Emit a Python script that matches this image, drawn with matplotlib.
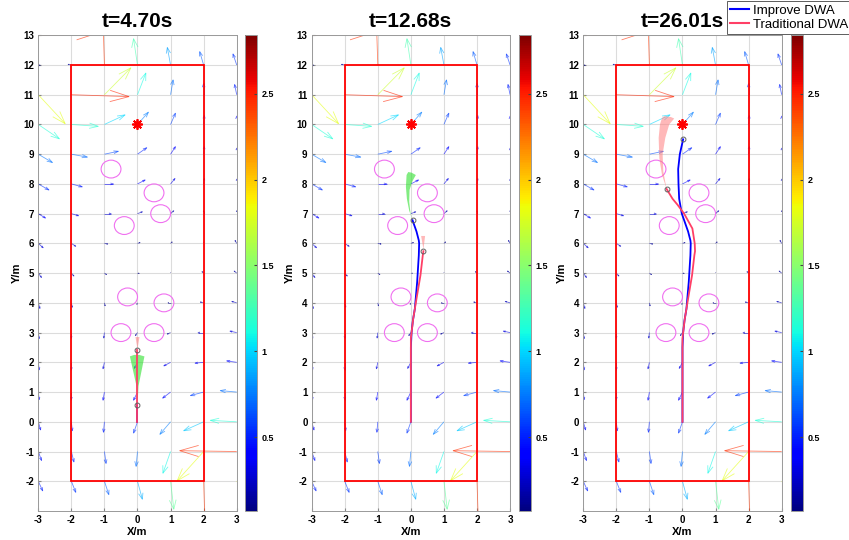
import numpy as np
import matplotlib
matplotlib.use("Agg")
import matplotlib.pyplot as plt
from matplotlib.collections import LineCollection
from matplotlib.patches import Circle, Rectangle
from matplotlib.colors import Normalize
from matplotlib.cm import ScalarMappable
from matplotlib.lines import Line2D

plt.rcParams['font.family'] = ['Liberation Sans', 'DejaVu Sans']
plt.rcParams['axes.unicode_minus'] = False

# ---- data ----
titles = ["t=4.70s", "t=12.68s", "t=26.01s"]

# flow field (m/s) on an integer grid, rows from y=13 down to y=-3
grid_x = [-3, -2, -1, 0, 1, 2, 3]
grid_y = [13, 12, 11, 10, 9, 8, 7, 6, 5, 4, 3, 2, 1, 0, -1, -2, -3]
flow_u = [
    [2.46, 0.43, 0.14, -0.21, -0.29, -0.29, -0.21],
    [0.07, -0.14, -0.07, -0.17, -0.14, -0.17, -0.16],
    [1.16, 2.49, 1.14, 0.36, 0.11, 0.0, -0.09],
    [0.91, 1.16, 0.89, 0.47, 0.21, 0.03, 0.0],
    [0.61, 0.69, 0.60, 0.40, 0.21, 0.03, 0.0],
    [0.46, 0.47, 0.39, 0.33, 0.19, 0.03, 0.0],
    [0.31, 0.31, 0.29, 0.21, 0.14, 0.0, 0.0],
    [0.21, 0.19, 0.14, 0.11, 0.07, 0.0, -0.07],
    [0.14, 0.11, 0.09, 0.06, 0.0, -0.07, -0.11],
    [0.07, 0.04, 0.03, -0.03, -0.11, -0.14, -0.21],
    [0.04, 0.0, -0.03, -0.09, -0.14, -0.24, -0.29],
    [0.04, 0.0, -0.06, -0.14, -0.29, -0.37, -0.43],
    [0.04, 0.0, -0.06, -0.17, -0.34, -0.57, -0.71],
    [0.10, 0.04, -0.04, -0.17, -0.46, -0.86, -1.14],
    [0.14, 0.11, 0.07, -0.06, -0.33, -1.14, -2.46],
    [0.19, 0.19, 0.19, 0.21, 0.14, 0.07, 1.43],
    [0.20, 0.20, 0.25, 0.30, 0.20, 0.10, 0.50],
]
flow_v = [
    [0.07, 1.71, 1.86, 1.57, 1.14, 0.86, 0.64],
    [0.0, 0.03, 2.43, 1.26, 0.84, 0.64, 0.53],
    [-1.39, -0.09, 1.29, 1.04, 0.71, 0.54, 0.49],
    [-0.69, -0.09, 0.46, 0.59, 0.54, 0.43, 0.40],
    [-0.40, -0.14, 0.14, 0.31, 0.36, 0.36, 0.29],
    [-0.29, -0.14, 0.0, 0.19, 0.26, 0.26, 0.23],
    [-0.21, -0.10, 0.0, 0.09, 0.14, 0.14, 0.14],
    [-0.21, -0.14, -0.03, 0.04, 0.07, 0.04, 0.14],
    [-0.21, -0.14, -0.07, 0.0, 0.03, 0.07, 0.10],
    [-0.27, -0.21, -0.14, -0.07, 0.0, 0.04, 0.07],
    [-0.29, -0.26, -0.26, -0.14, -0.07, 0.0, 0.07],
    [-0.36, -0.36, -0.31, -0.29, -0.17, -0.04, 0.07],
    [-0.36, -0.36, -0.39, -0.39, -0.29, -0.17, 0.07],
    [-0.39, -0.43, -0.50, -0.54, -0.60, -0.43, 0.07],
    [-0.43, -0.50, -0.57, -0.71, -1.04, -1.40, 0.04],
    [-0.46, -0.53, -0.64, -0.86, -1.34, -2.43, -1.14],
    [-0.50, -0.60, -0.75, -0.95, -1.50, -2.20, -1.50],
]
speed_lim = (0.07, 2.84)

# obstacles, goal, workspace boundary
obs_x = [-0.8, 0.5, 0.7, -0.4, -0.3, 0.8, -0.5, 0.5]
obs_y = [8.5, 7.7, 7.0, 6.6, 4.2, 4.0, 3.0, 3.0]
obs_r = 0.3
goal_x, goal_y = 0, 10
bound_x = [-2, 2]
bound_y = [-2, 12]

# robot trajectories
imp_x = [0, 0, 0, 0.02, 0.06, 0.12, 0.19, 0.24, 0.25, 0.24, 0.17, 0.05,
         -0.02, -0.1, -0.12, -0.13, -0.08, 0.02]
imp_y = [0, 0.55, 2.5, 3.0, 3.4, 3.8, 4.7, 5.6, 6.0, 6.1, 6.4, 6.78,
         7.0, 7.5, 8.0, 8.5, 9.0, 9.5]
imp_end = [1, 11, 17]
trad_x = [0, 0, 0, 0.02, 0.07, 0.17, 0.29, 0.36, 0.38, 0.37, 0.3, 0.05,
          -0.15, -0.3, -0.48]
trad_y = [0, 2.4, 2.8, 3.0, 3.46, 4.14, 4.93, 5.6, 5.74, 6.0, 6.5, 7.0,
          7.3, 7.5, 7.83]
trad_end = [1, 8, 14]

# predicted trajectory fans (outlines)
imp_fan = [
    ([0, 0.03, 0.21, 0.05, -0.1, -0.23, -0.03],
     [0.55, 1.2, 2.2, 2.25, 2.25, 2.2, 1.2]),
    ([0.05, -0.05, -0.12, -0.15, -0.13, -0.08, 0.02, 0.15, 0.05, -0.04, -0.05, -0.01],
     [6.78, 7.1, 7.5, 7.9, 8.3, 8.4, 8.38, 8.3, 8.1, 7.8, 7.4, 7.0]),
    None,
]
trad_fan = [
    ([0, 0.06, -0.06], [2.45, 2.85, 2.85]),
    ([0.38, 0.43, 0.31], [5.8, 6.25, 6.25]),
    ([-0.48, -0.62, -0.7, -0.72, -0.68, -0.62, -0.55, -0.35, -0.25, -0.4, -0.52, -0.6, -0.58],
     [7.83, 8.31, 8.87, 9.55, 10.0, 10.22, 10.28, 10.25, 10.2, 10.0, 9.55, 9.0, 8.42]),
]

imp_color = "#0000ff"
trad_color = "#ff3f66"
cmap = plt.get_cmap("jet")
norm = Normalize(*speed_lim)


def flow_lines(k=0.7, a=0.33, b=0.33):
    # MATLAB-style quiver arrows: shaft plus open head, in data units
    X, Y = np.meshgrid(grid_x, grid_y)
    U = np.array(flow_u)
    V = np.array(flow_v)
    segs, spd = [], []
    for x, y, u, v in zip(X.ravel(), Y.ravel(), U.ravel(), V.ravel()):
        p, q = u * k, v * k
        tx, ty = x + p, y + q
        segs.append([(x, y), (tx, ty)])
        segs.append([(tx - a * (p + b * q), ty - a * (q - b * p)), (tx, ty),
                     (tx - a * (p - b * q), ty - a * (q + b * p))])
        s = np.hypot(u, v)
        spd += [s, s]
    lc = LineCollection(segs, cmap=cmap, norm=norm, linewidths=0.6, alpha=0.6, zorder=2)
    lc.set_array(np.array(spd))
    return lc


fig = plt.figure(figsize=(8.49, 5.40), dpi=100)
ax_lefts = [0.0451, 0.3671, 0.687]
cb_lefts = [0.2886, 0.6113, 0.9317]
bottom, height, width = 0.0537, 0.881, 0.2337

for i in range(3):
    ax = fig.add_axes([ax_lefts[i], bottom, width, height])
    ax.add_collection(flow_lines())

    for cx, cy in zip(obs_x, obs_y):
        ax.add_patch(Circle((cx, cy), obs_r, fill=False, ec="#f070f0", lw=0.8, zorder=3))
    ax.add_patch(Rectangle((bound_x[0], bound_y[0]), bound_x[1] - bound_x[0],
                           bound_y[1] - bound_y[0], fill=False, ec="red", lw=1.3, zorder=3))
    ax.plot(goal_x, goal_y, marker=(8, 2, 0), color="red", ms=7.5, mew=1.3, zorder=5)

    if imp_fan[i] is not None:
        ax.fill(imp_fan[i][0], imp_fan[i][1], color="#2ee02e", alpha=0.6, lw=0, zorder=4)
    if trad_fan[i] is not None:
        ax.fill(trad_fan[i][0], trad_fan[i][1], color="#ff7f80", alpha=0.55, lw=0, zorder=4)

    n = imp_end[i] + 1
    ax.plot(imp_x[:n], imp_y[:n], color=imp_color, lw=1.3, zorder=5)
    m = trad_end[i] + 1
    ax.plot(trad_x[:m], trad_y[:m], color=trad_color, lw=1.3, zorder=6)
    ax.plot([imp_x[n - 1], trad_x[m - 1]], [imp_y[n - 1], trad_y[m - 1]], "o",
            ms=3.5, mfc="none", mec="#606060", mew=0.7, zorder=7)

    ax.set_xlim(-3, 3)
    ax.set_ylim(-3, 13)
    ax.set_xticks(range(-3, 4))
    ax.set_yticks(range(-2, 14))
    ax.grid(True, color="#dcdcdc", lw=0.8)
    ax.set_axisbelow(True)
    ax.tick_params(direction="in", length=2.5, labelsize=7, color="#888888", pad=3)
    for lab in ax.get_xticklabels() + ax.get_yticklabels():
        lab.set_fontweight("bold")
    for sp in ax.spines.values():
        sp.set_color("#999999")
        sp.set_linewidth(0.7)
    ax.set_xlabel("X/m", fontsize=8, fontweight="bold", labelpad=1)
    ax.set_ylabel("Y/m", fontsize=8, fontweight="bold", labelpad=1)
    ax.set_title(titles[i], fontsize=15, fontweight="bold", pad=6)

    cax = fig.add_axes([cb_lefts[i], bottom, 0.0141, height])
    cb = fig.colorbar(ScalarMappable(norm=norm, cmap=cmap), cax=cax,
                      ticks=[0.5, 1, 1.5, 2, 2.5])
    cb.ax.set_yticklabels(["0.5", "1", "1.5", "2", "2.5"])
    cb.ax.tick_params(direction="in", length=2.5, labelsize=6.5, color="#444444")
    for lab in cb.ax.get_yticklabels():
        lab.set_fontweight("bold")
    cb.outline.set_edgecolor("#999999")
    cb.outline.set_linewidth(0.7)

handles = [Line2D([], [], color=imp_color, lw=1.5), Line2D([], [], color=trad_color, lw=1.5)]
leg = fig.legend(handles, ["Improve DWA", "Traditional DWA"], loc="upper right",
                 bbox_to_anchor=(1.004, 1.0), fontsize=9.5, frameon=True, fancybox=False,
                 edgecolor="#333333", borderpad=0.25, labelspacing=0.15,
                 handlelength=1.4, handletextpad=0.3, borderaxespad=0.1)
leg.get_frame().set_linewidth(0.7)

fig.savefig("out.png", dpi=100)
